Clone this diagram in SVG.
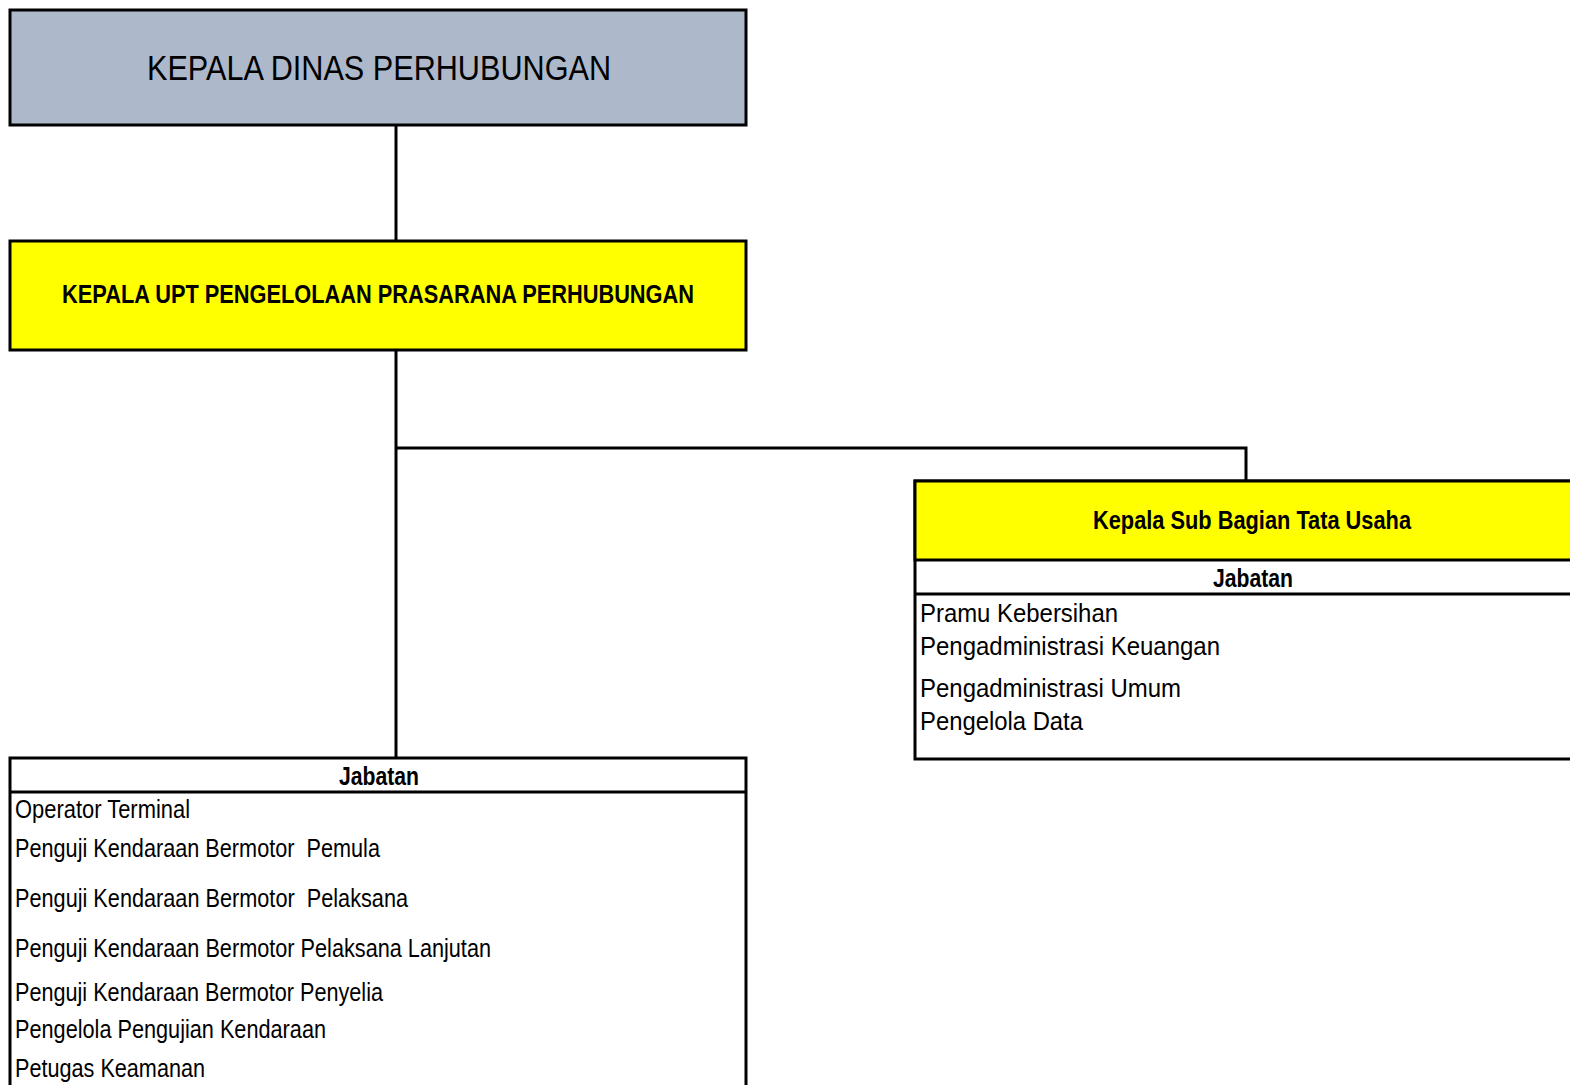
<svg xmlns="http://www.w3.org/2000/svg" width="1570" height="1085" viewBox="0 0 1570 1085">
<style>
text{font-family:"Liberation Sans",Arial,sans-serif;fill:#000;white-space:pre}
.b{stroke:#000;stroke-width:3}
.reg{font-size:26px}
.bold{font-weight:bold;font-size:26px}
.c{text-anchor:middle}
.conn{stroke:#000;stroke-width:3;fill:none}
</style>
<rect width="1570" height="1085" fill="#fff"/>
<g id="connectors">
<line class="conn" x1="396" y1="125" x2="396" y2="241"/>
<line class="conn" x1="396" y1="350" x2="396" y2="758"/>
<polyline class="conn" points="396,448 1246,448 1246,481"/>
</g>
<g id="kepala-dinas">
<rect class="b" x="10" y="10" width="736" height="115" fill="#ADB9CA"/>
<text x="379" y="80" font-size="35" class="c" textLength="464" lengthAdjust="spacingAndGlyphs">KEPALA DINAS PERHUBUNGAN</text>
</g>
<g id="kepala-upt">
<rect class="b" x="10" y="241" width="736" height="109" fill="#FFFF00"/>
<text x="378" y="303" class="bold c" textLength="632" lengthAdjust="spacingAndGlyphs">KEPALA UPT PENGELOLAAN PRASARANA PERHUBUNGAN</text>
</g>
<g id="kasubag-tu">
<rect class="b" x="915" y="481" width="670" height="278" fill="#fff"/>
<rect class="b" x="915" y="481" width="670" height="79" fill="#FFFF00"/>
<line class="b" x1="915" y1="594" x2="1585" y2="594"/>
<text x="1252" y="529" class="bold c" textLength="318" lengthAdjust="spacingAndGlyphs">Kepala Sub Bagian Tata Usaha</text>
<text x="1253" y="587" class="bold c" textLength="80" lengthAdjust="spacingAndGlyphs">Jabatan</text>
<text x="920" y="622" class="reg" textLength="198" lengthAdjust="spacingAndGlyphs">Pramu Kebersihan</text>
<text x="920" y="655" class="reg" textLength="300" lengthAdjust="spacingAndGlyphs">Pengadministrasi Keuangan</text>
<text x="920" y="697" class="reg" textLength="261" lengthAdjust="spacingAndGlyphs">Pengadministrasi Umum</text>
<text x="920" y="730" class="reg" textLength="163" lengthAdjust="spacingAndGlyphs">Pengelola Data</text>
</g>
<g id="jabatan-upt">
<rect class="b" x="10" y="758" width="736" height="340" fill="#fff"/>
<line class="b" x1="10" y1="792" x2="746" y2="792"/>
<text x="379" y="785" class="bold c" textLength="80" lengthAdjust="spacingAndGlyphs">Jabatan</text>
<text x="15" y="818" class="reg" textLength="175" lengthAdjust="spacingAndGlyphs">Operator Terminal</text>
<text x="15" y="857" class="reg" textLength="365" lengthAdjust="spacingAndGlyphs">Penguji Kendaraan Bermotor  Pemula</text>
<text x="15" y="907" class="reg" textLength="393" lengthAdjust="spacingAndGlyphs">Penguji Kendaraan Bermotor  Pelaksana</text>
<text x="15" y="957" class="reg" textLength="476" lengthAdjust="spacingAndGlyphs">Penguji Kendaraan Bermotor Pelaksana Lanjutan</text>
<text x="15" y="1001" class="reg" textLength="368" lengthAdjust="spacingAndGlyphs">Penguji Kendaraan Bermotor Penyelia</text>
<text x="15" y="1038" class="reg" textLength="311" lengthAdjust="spacingAndGlyphs">Pengelola Pengujian Kendaraan</text>
<text x="15" y="1077" class="reg" textLength="190" lengthAdjust="spacingAndGlyphs">Petugas Keamanan</text>
</g>
</svg>
